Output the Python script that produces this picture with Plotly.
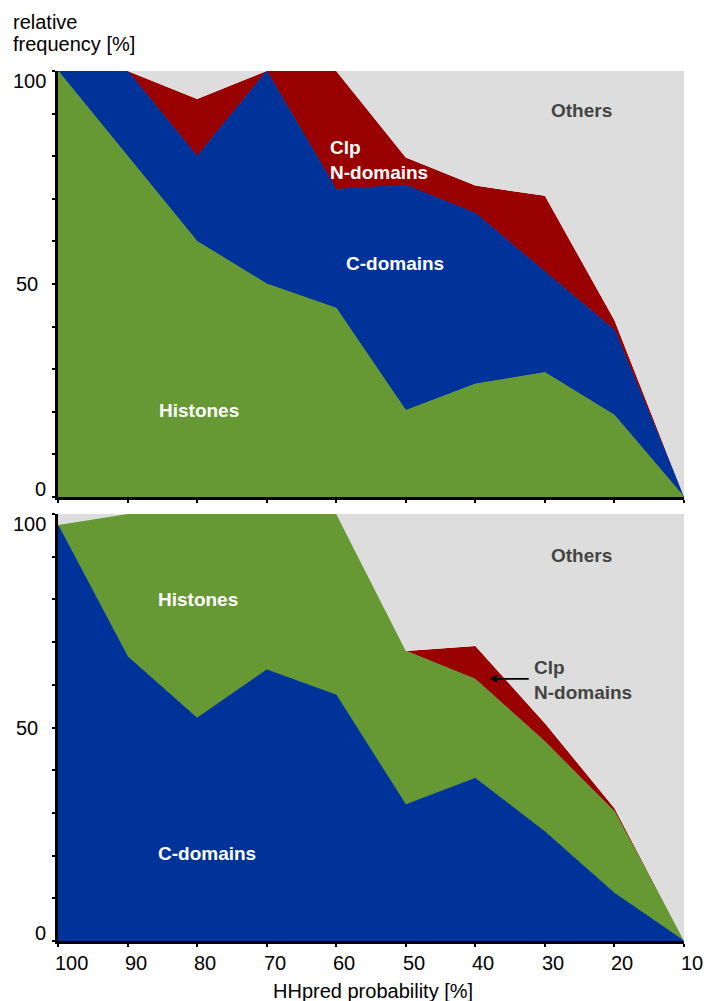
import plotly.graph_objects as go

# HHpred probability bins (x axis, plotted from high to low)
PROBABILITY = [100, 90, 80, 70, 60, 50, 40, 30, 20, 10]

# Upper panel: share of hits per class [%]
TOP_HISTONES = [100, 80, 60, 50, 44.3, 20.3, 26.5, 29.2, 19.2, 0]
TOP_C_DOMAINS = [0, 20, 20, 50, 27.9, 52.9, 40.1, 23.7, 20.0, 0]
TOP_CLP_N = [0, 0, 13.4, 0, 27.8, 6.5, 6.5, 17.8, 2.3, 0]

# Lower panel: share of hits per class [%]
BOT_C_DOMAINS = [97.4, 66.6, 52.2, 63.5, 57.6, 31.9, 38.1, 25.6, 11.2, 0]
BOT_HISTONES = [0, 33.4, 47.8, 36.5, 42.4, 36.0, 23.2, 21.1, 19.1, 0]
BOT_CLP_N = [0, 0, 0, 0, 0, 0, 7.8, 4.3, 0.8, 0]

Y_TICKS = [0, 50, 100]
Y_MINOR = list(range(0, 101, 10))

GREEN = "#669933"
BLUE = "#003399"
RED = "#990000"
GREY = "#dddddd"
LABEL_GREY = "#444444"
FONT = "Liberation Sans, Arial, sans-serif"

W, H = 704, 1001


def others(*series):
    return [max(0.0, round(100 - sum(v), 1)) for v in zip(*series)]


TOP_OTHERS = others(TOP_HISTONES, TOP_C_DOMAINS, TOP_CLP_N)
BOT_OTHERS = others(BOT_C_DOMAINS, BOT_HISTONES, BOT_CLP_N)

fig = go.Figure()


def add_stack(values, colour, name, xa, ya, group, width=1):
    fig.add_trace(go.Scatter(
        x=PROBABILITY, y=values, name=name, mode="lines",
        stackgroup=group, fillcolor=colour,
        line=dict(color=colour, width=width),
        xaxis=xa, yaxis=ya, showlegend=False, hoverinfo="skip",
    ))


add_stack(TOP_HISTONES, GREEN, "Histones", "x", "y", "top")
add_stack(TOP_C_DOMAINS, BLUE, "C-domains", "x", "y", "top")
add_stack(TOP_CLP_N, RED, "Clp N-domains", "x", "y", "top", width=0)
add_stack(TOP_OTHERS, GREY, "Others", "x", "y", "top", width=0)

add_stack(BOT_C_DOMAINS, BLUE, "C-domains", "x2", "y2", "bottom")
add_stack(BOT_HISTONES, GREEN, "Histones", "x2", "y2", "bottom")
add_stack(BOT_CLP_N, RED, "Clp N-domains", "x2", "y2", "bottom", width=0)
add_stack(BOT_OTHERS, GREY, "Others", "x2", "y2", "bottom", width=0)

x_dom = [58 / W, 684 / W]
top_dom = [1 - 497 / H, 1 - 71 / H]
bot_dom = [1 - 941 / H, 1 - 514 / H]

xaxis_style = dict(
    range=[100, 10], domain=x_dom, showline=True, linecolor="black",
    linewidth=2.5, ticks="outside", ticklen=3, tickwidth=1.5,
    tickcolor="black", tickvals=PROBABILITY, showticklabels=False,
    showgrid=False, zeroline=False, fixedrange=True,
)
yaxis_style = dict(
    range=[0, 100], showline=True, linecolor="black", linewidth=2.5,
    ticks="outside", ticklen=3, tickwidth=1.5, tickcolor="black",
    tickvals=Y_MINOR, showticklabels=False, showgrid=False,
    zeroline=False, fixedrange=True,
)

fig.update_layout(
    width=W, height=H,
    margin=dict(l=0, r=0, t=0, b=0),
    paper_bgcolor="white", plot_bgcolor="white",
    font=dict(family=FONT, size=20, color="black"),
    xaxis=dict(**xaxis_style, anchor="y"),
    yaxis=dict(**yaxis_style, domain=top_dom, anchor="x"),
    xaxis2=dict(**xaxis_style, anchor="y2"),
    yaxis2=dict(**yaxis_style, domain=bot_dom, anchor="x2"),
)

ann = []

# y tick labels for both panels
for yref in ("y", "y2"):
    for v in Y_TICKS:
        end = v in (0, 100)
        ann.append(dict(x=40 / W, xref="paper", xanchor="right",
                        xshift=8 if end else 0,
                        y=v, yref=yref, yanchor="middle",
                        yshift=-10 if v == 100 else (8 if v == 0 else 0),
                        text=str(v), showarrow=False,
                        font=dict(family=FONT, size=20, color="black")))

# x tick labels under the lower panel (left-aligned at the tick)
for v in PROBABILITY:
    ann.append(dict(x=v, xref="x2", xanchor="left", xshift=-5,
                    y=1 - 963 / H, yref="paper", yanchor="middle",
                    text=str(v), showarrow=False,
                    font=dict(family=FONT, size=20, color="black")))

# axis titles
ann.append(dict(x=11 / W, xref="paper", xanchor="left", y=1 - 22 / H,
                yref="paper", yanchor="middle", text="relative",
                showarrow=False, font=dict(family=FONT, size=20)))
ann.append(dict(x=11 / W, xref="paper", xanchor="left", y=1 - 44 / H,
                yref="paper", yanchor="middle", text="frequency [%]",
                showarrow=False, font=dict(family=FONT, size=20)))
ann.append(dict(x=373 / W, xref="paper", xanchor="center", y=1 - 991 / H,
                yref="paper", yanchor="middle", text="HHpred probability [%]",
                showarrow=False, font=dict(family=FONT, size=20)))


def area_label(text, x, y, xr, yr, colour="white", anchor="center"):
    ann.append(dict(x=x, y=y, xref=xr, yref=yr, xanchor=anchor,
                    yanchor="middle", align="left", text=text,
                    showarrow=False,
                    font=dict(family=FONT, size=19, color=colour,
                              weight="bold")))


# upper panel labels
area_label("Others", 24.7, 90.7, "x", "y", LABEL_GREY)
area_label("Clp<br>N-domains", 61.2, 79.1, "x", "y", anchor="left")
area_label("C-domains", 51.5, 54.9, "x", "y")
area_label("Histones", 79.7, 20.4, "x", "y")

# lower panel labels
area_label("Others", 24.7, 90.2, "x2", "y2", LABEL_GREY)
area_label("Histones", 79.9, 79.9, "x2", "y2")
area_label("C-domains", 78.6, 20.6, "x2", "y2")
area_label("Clp<br>N-domains", 31.8, 61.1, "x2", "y2", LABEL_GREY,
           anchor="left")

# pointer to the thin Clp band
ann.append(dict(x=38.0, y=61.4, xref="x2", yref="y2", text="",
                showarrow=True, ax=41, ay=0, arrowhead=2, arrowsize=0.9,
                arrowwidth=1.8, arrowcolor="black", standoff=0))

fig.update_layout(annotations=ann)

fig.write_html("out.html")
